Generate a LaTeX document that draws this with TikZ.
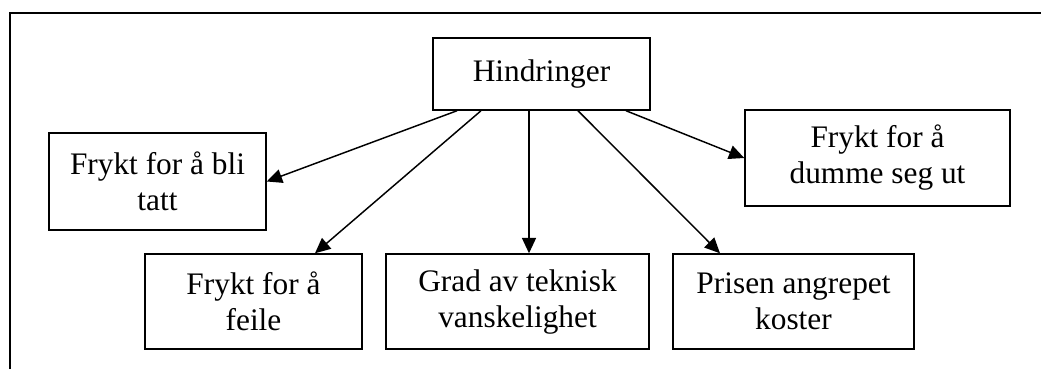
\documentclass[tikz,border=0pt]{standalone}
\usepackage{fontspec}
\setmainfont{Liberation Serif}
\usetikzlibrary{arrows.meta,calc}
\begin{document}
\begin{tikzpicture}[x=0.75pt,y=-0.75pt,
  box/.style={draw,line width=1.1pt,rectangle,inner sep=0pt,align=center,
    font=\fontsize{23.5}{27}\selectfont},
  arr/.style={line width=1.1pt,-{Triangle[length=11.5pt,width=10.5pt]}},
  frame/.style={line width=1.5pt}]
\useasboundingbox (0,0) rectangle (1041,369);
% open frame along the top and left edges
\coordinate (fb) at (10,369);
\coordinate (fc) at (10,13);
\coordinate (fr) at (1041,13);
\draw[frame] (fb) -- (fc) -- (fr);
% root and its five outcomes
\node[box,minimum width=162.75pt,minimum height=54pt] (h) at (541.5,74) {Hindringer};
\node[box,minimum width=162.75pt,minimum height=72.75pt] (tatt) at (157.5,181.5) {Frykt for å bli\\tatt};
\node[box,minimum width=198.75pt,minimum height=72pt] (dumme) at (877.5,158) {Frykt for å\\dumme seg ut};
\node[box,minimum width=162.75pt,minimum height=71.25pt] (feile) at (253.5,301.5) {Frykt for å\\feile};
\node[box,minimum width=197.25pt,minimum height=71.25pt] (grad) at (517.5,301.5) {Grad av teknisk\\vanskelighet};
\node[box,minimum width=180.75pt,minimum height=71.25pt] (pris) at (793.5,301.5) {Prisen angrepet\\koster};
% connectors
\draw[arr] ($(h.south)+(-84.5,0)$) -- (tatt.east);
\draw[arr] ($(h.south)+(-60.5,0)$) -- ($(feile.north)+(61.5,0)$);
\draw[arr] ($(h.south)+(-12.5,0)$) -- ($(grad.north)+(11.5,0)$);
\draw[arr] ($(h.south)+(36.5,0)$) -- ($(pris.north)+(-73.5,0)$);
\draw[arr] ($(h.south)+(84.5,0)$) -- (dumme.west);
\end{tikzpicture}
\end{document}
